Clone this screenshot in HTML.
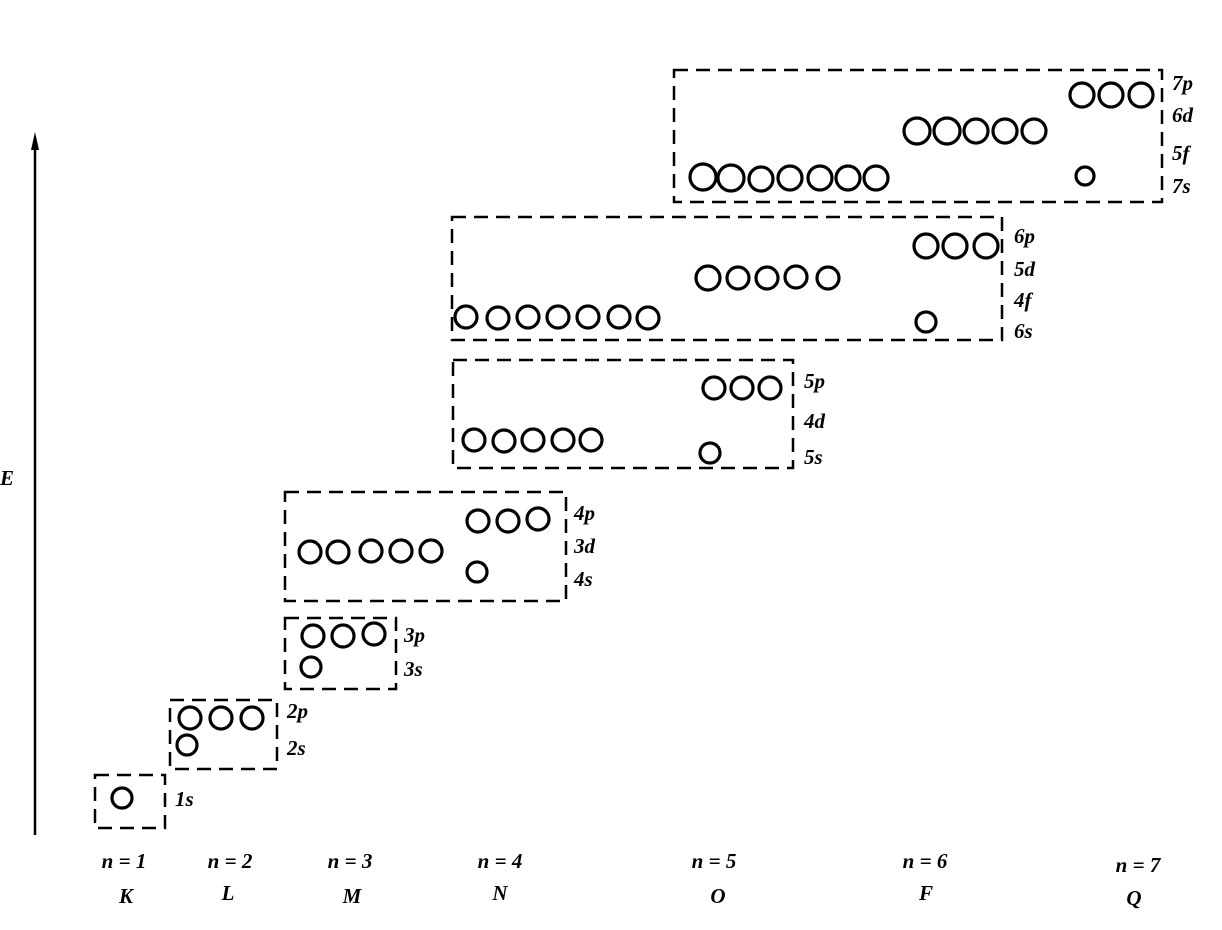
<!DOCTYPE html>
<html><head><meta charset="utf-8"><style>
html,body{margin:0;padding:0;background:#fff;}
svg{display:block}
text{font-family:"Liberation Serif",serif;font-style:italic;font-size:21px;font-weight:bold;fill:#000}
</style></head><body>
<svg width="1222" height="930" viewBox="0 0 1222 930" xmlns="http://www.w3.org/2000/svg">
<g fill="none" stroke="#000" stroke-width="2.5" stroke-dasharray="14,8">
<rect x="95" y="775" width="70" height="53"/>
<rect x="170" y="700" width="107" height="69"/>
<rect x="285" y="618" width="111" height="71"/>
<rect x="285" y="492" width="281" height="109"/>
<rect x="453" y="360" width="340" height="108"/>
<rect x="452" y="217" width="550" height="123"/>
<rect x="674" y="70" width="488" height="132"/>
</g>
<g fill="none" stroke="#000" stroke-width="3.2">
<circle cx="122" cy="798" r="10"/>
<circle cx="190" cy="718" r="11"/><circle cx="221" cy="718" r="11"/><circle cx="252" cy="718" r="11"/><circle cx="187" cy="745" r="10"/>
<circle cx="313" cy="636" r="11"/><circle cx="343" cy="636" r="11"/><circle cx="374" cy="634" r="11"/><circle cx="311" cy="667" r="10"/>
<circle cx="478" cy="521" r="11"/><circle cx="508" cy="521" r="11"/><circle cx="538" cy="519" r="11"/>
<circle cx="310" cy="552" r="11"/><circle cx="338" cy="552" r="11"/><circle cx="371" cy="551" r="11"/><circle cx="401" cy="551" r="11"/><circle cx="431" cy="551" r="11"/>
<circle cx="477" cy="572" r="10"/>
<circle cx="714" cy="388" r="11"/><circle cx="742" cy="388" r="11"/><circle cx="770" cy="388" r="11"/>
<circle cx="474" cy="440" r="11"/><circle cx="504" cy="441" r="11"/><circle cx="533" cy="440" r="11"/><circle cx="563" cy="440" r="11"/><circle cx="591" cy="440" r="11"/>
<circle cx="710" cy="453" r="10"/>
<circle cx="926" cy="246" r="12"/><circle cx="955" cy="246" r="12"/><circle cx="986" cy="246" r="12"/>
<circle cx="708" cy="278" r="12"/><circle cx="738" cy="278" r="11"/><circle cx="767" cy="278" r="11"/><circle cx="796" cy="277" r="11"/><circle cx="828" cy="278" r="11"/>
<circle cx="466" cy="317" r="11"/><circle cx="498" cy="318" r="11"/><circle cx="528" cy="317" r="11"/><circle cx="558" cy="317" r="11"/><circle cx="588" cy="317" r="11"/><circle cx="619" cy="317" r="11"/><circle cx="648" cy="318" r="11"/>
<circle cx="926" cy="322" r="10"/>
<circle cx="1082" cy="95" r="12"/><circle cx="1111" cy="95" r="12"/><circle cx="1141" cy="95" r="12"/>
<circle cx="917" cy="131" r="13"/><circle cx="947" cy="131" r="13"/><circle cx="976" cy="131" r="12"/><circle cx="1005" cy="131" r="12"/><circle cx="1034" cy="131" r="12"/>
<circle cx="703" cy="177" r="13"/><circle cx="731" cy="178" r="13"/><circle cx="761" cy="179" r="12"/><circle cx="790" cy="178" r="12"/><circle cx="820" cy="178" r="12"/><circle cx="848" cy="178" r="12"/><circle cx="876" cy="178" r="12"/>
<circle cx="1085" cy="176" r="9"/>
</g>
<line x1="35" y1="140" x2="35" y2="835" stroke="#000" stroke-width="2.5"/>
<polygon points="35,132 31,150 39,150" fill="#000"/>
<text x="0" y="485">E</text>
<g>
<text x="175" y="806">1s</text>
<text x="287" y="718">2p</text><text x="287" y="755">2s</text>
<text x="404" y="642">3p</text><text x="404" y="676">3s</text>
<text x="574" y="520">4p</text><text x="574" y="553">3d</text><text x="574" y="586">4s</text>
<text x="804" y="388">5p</text><text x="804" y="428">4d</text><text x="804" y="464">5s</text>
<text x="1014" y="243">6p</text><text x="1014" y="276">5d</text><text x="1014" y="307">4f</text><text x="1014" y="338">6s</text>
<text x="1172" y="90">7p</text><text x="1172" y="122">6d</text><text x="1172" y="160">5f</text><text x="1172" y="193">7s</text>
</g>
<g text-anchor="middle">
<text x="124" y="868">n = 1</text><text x="126" y="903">K</text>
<text x="230" y="868">n = 2</text><text x="228" y="900">L</text>
<text x="350" y="868">n = 3</text><text x="352" y="903">M</text>
<text x="500" y="868">n = 4</text><text x="500" y="900">N</text>
<text x="714" y="868">n = 5</text><text x="718" y="903">O</text>
<text x="925" y="868">n = 6</text><text x="926" y="900">F</text>
<text x="1138" y="872">n = 7</text><text x="1134" y="905">Q</text>
</g>
</svg>
</body></html>
